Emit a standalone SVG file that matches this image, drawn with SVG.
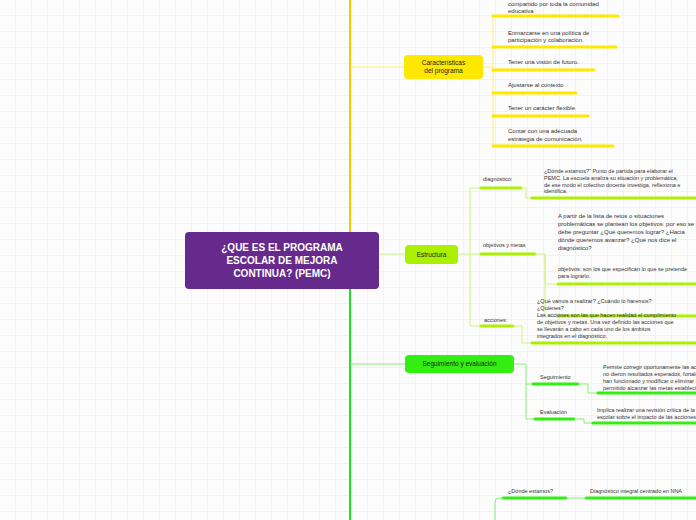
<svg xmlns="http://www.w3.org/2000/svg" width="696" height="520" viewBox="0 0 696 520">
<defs>
<pattern id="grid" width="16" height="16" patternUnits="userSpaceOnUse">
<path d="M16 0V16H0" fill="none" stroke="#f0f0f0" stroke-width="1.5"/>
</pattern>
<style>
text{font-family:"Liberation Sans",Arial,sans-serif;font-size:6px;fill:#333}
.y{stroke:#ffe800;stroke-width:3;stroke-linecap:round}
.g{stroke:#aaf000;stroke-width:3;stroke-linecap:round}
.gg{stroke:#33ee11;stroke-width:3;stroke-linecap:round}
.cy{fill:none;stroke:#fff06a;stroke-width:1}
.cg{fill:none;stroke:#ccf57a;stroke-width:1}
.cgg{fill:none;stroke:#88ee77;stroke-width:1}
.lbl{font-size:6.5px;text-anchor:middle;fill:#222}
</style>
</defs>
<rect width="696" height="520" fill="#fcfcfc"/>
<rect width="696" height="520" fill="url(#grid)"/>
<g id="connectors">
<path d="M350 0V232" stroke="#f5c800" stroke-width="2" fill="none"/>
<path d="M350 289V520" stroke="#22dd22" stroke-width="2" fill="none"/>
<path d="M379 254H405" class="cg"/>
<path d="M350 67H404" class="cy"/>
<path d="M350 364H405" class="cgg"/>
<path d="M483 67H493 M493 16V146" class="cy"/>
<path d="M493 16H618 M493 47H616 M493 70H594 M493 93H576 M493 116H588 M493 146H613" class="y" fill="none"/>
<path d="M458 254H470 M470 188V326" class="cg"/>
<path d="M470 188H480 M470 254H480 M470 326H480" class="cg"/>
<path d="M481 188H521 M481 254H535 M481 326H513" class="g" fill="none"/>
<path d="M521 188H526V198H532 M535 254H545V284 M545 284H556 M545 254V316H556 M513 326H522V343H532" class="cg"/>
<path d="M532 198H696 M558 284H696 M558 316H696 M532 343H696" class="g" fill="none"/>
<path d="M514 364H526V419 M526 384H533 M526 419H535" class="cgg"/>
<path d="M533 384H578 M535 419H574" class="gg" fill="none"/>
<path d="M578 384H588V393H598 M574 419H584V423H592" class="cgg"/>
<path d="M598 393H696 M593 423H696 M503 498H566 M586 498H696" class="gg" fill="none"/>
<path d="M566 498H586 M503 498H499Q495 498 495 502V520" class="cgg"/>
</g>
<g id="main">
<rect x="185" y="232" width="194" height="57" rx="4" fill="#652a8c"/>
<text x="282" y="251" text-anchor="middle" style="font-size:10px;font-weight:bold;fill:#fff">¿QUE ES EL PROGRAMA</text>
<text x="282" y="264" text-anchor="middle" style="font-size:10px;font-weight:bold;fill:#fff">ESCOLAR DE MEJORA</text>
<text x="282" y="277" text-anchor="middle" style="font-size:10px;font-weight:bold;fill:#fff">CONTINUA? (PEMC)</text>
</g>
<g id="caracteristicas">
<rect x="404" y="55" width="79" height="24" rx="4" fill="#ffe800"/>
<text x="443.5" y="65" class="lbl">Características</text>
<text x="443.5" y="73" class="lbl">del programa</text>
<text x="508" y="6">compartido por toda la comunidad</text>
<text x="508" y="13">educativa</text>
<text x="508" y="35">Enmarcarse en una política de</text>
<text x="508" y="42">participación y colaboración.</text>
<text x="508" y="64">Tener una visión de futuro.</text>
<text x="508" y="87">Ajustarse al contexto</text>
<text x="508" y="110">Tener un carácter flexible</text>
<text x="508" y="133">Contar con una adecuada</text>
<text x="508" y="141">estrategia de comunicación.</text>
</g>
<g id="estructura">
<rect x="405" y="245" width="53" height="19" rx="4" fill="#aaf000"/>
<text x="431.5" y="257" class="lbl">Estructura</text>
<text x="483" y="181" style="font-size:5.5px">diagnóstico:</text>
<text x="544" y="173" style="font-size:5.5px">¿Dónde estamos?" Punto de partida para elaborar el</text>
<text x="544" y="180" style="font-size:5.5px">PEMC. La escuela analiza su situación y problemática,</text>
<text x="544" y="187" style="font-size:5.5px">de ese modo el colectivo docente investiga, reflexiona e</text>
<text x="544" y="193" style="font-size:5.5px">identifica.</text>
<text x="483" y="247" style="font-size:5.5px">objetivos y metas</text>
<text x="558" y="218">A partir de la lista de retos o situaciones</text>
<text x="558" y="226">problemáticas se plantean los objetivos. por eso se</text>
<text x="558" y="234">debe preguntar ¿Qué queremos lograr? ¿Hacia</text>
<text x="558" y="242">dónde queremos avanzar? ¿Qué nos dice el</text>
<text x="558" y="250">diagnóstico?</text>
<text x="558" y="271" style="font-size:5.5px">objetivos: son los que especifican lo que se pretende</text>
<text x="558" y="278" style="font-size:5.5px">para lograrlo.</text>
<text x="484" y="322" style="font-size:5.5px">acciones:</text>
<text x="537" y="303" style="font-size:5.5px">¿Qué vamos a realizar? ¿Cuándo lo haremos?</text>
<text x="537" y="310" style="font-size:5.5px">¿Quiénes?</text>
<text x="537" y="317" style="font-size:5.5px">Las acciones son las que hacen realidad el cumplimiento</text>
<text x="537" y="324" style="font-size:5.5px">de objetivos y metas. Una vez definido las acciones que</text>
<text x="537" y="331" style="font-size:5.5px">se llevarán a cabo en cada uno de los ámbitos</text>
<text x="537" y="338" style="font-size:5.5px">integrados en el diagnóstico.</text>
</g>
<g id="seguimiento">
<rect x="405" y="355" width="109" height="18" rx="4" fill="#33ee11"/>
<text x="459.5" y="366" class="lbl">Seguimiento y evaluación</text>
<text x="540" y="379" style="font-size:5.5px">Seguimiento</text>
<text x="603" y="369" style="font-size:5.5px">Permite corregir oportunamente las acciones que</text>
<text x="603" y="376" style="font-size:5.5px">no dieron resultados esperados, fortalecer las que</text>
<text x="603" y="383" style="font-size:5.5px">han funcionado y modificar o eliminar las que no han</text>
<text x="603" y="390" style="font-size:5.5px">permitido alcanzar las metas establecidas.</text>
<text x="540" y="414" style="font-size:5.5px">Evaluación</text>
<text x="597" y="412" style="font-size:5.5px">Implica realizar una revisión crítica de la gestión</text>
<text x="597" y="419" style="font-size:5.5px">escolar sobre el impacto de las acciones.</text>
</g>
<g id="donde">
<text x="508" y="493" style="font-size:5.5px">¿Dónde estamos?</text>
<text x="590" y="493" style="font-size:5.5px">Diagnóstico integral centrado en NNA</text>
</g>
</svg>
